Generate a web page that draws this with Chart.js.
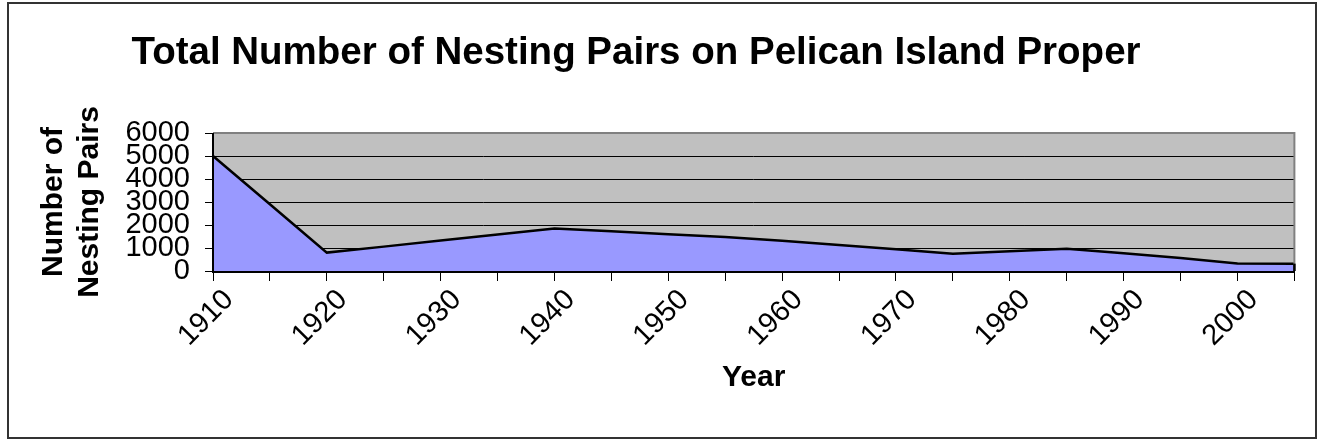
<!DOCTYPE html>
<html><head><meta charset="utf-8">
<script src="https://cdn.jsdelivr.net/npm/chart.js@4.4.1/dist/chart.umd.min.js"></script>
<style>html,body{margin:0;padding:0;background:#fff;} canvas{display:block;}</style>
</head><body>
<canvas id="c" width="1321" height="444"></canvas>
<script>
const years = [1910,1915,1920,1925,1930,1935,1940,1945,1950,1955,1960,1965,1970,1975,1980,1985,1990,1995,2000,2005];
const pairs = [5000,2900,800,1060,1330,1590,1850,1730,1600,1480,1320,1130,950,750,860,970,770,570,330,320];
const yTickMin = 0, yTickMax = 6000, yTickStep = 1000;
const titleText = "Total Number of Nesting Pairs on Pelican Island Proper";
const yTitle = ["Number of", "Nesting Pairs"];
const xTitle = "Year";
const FONT = "'Liberation Sans', Arial, Helvetica, sans-serif";
const PAD_LEFT = -24;

const decor = {
  id: 'decor',
  beforeDraw(chart) {
    const {ctx, chartArea: a} = chart;
    ctx.save();
    ctx.fillStyle = '#ffffff';
    ctx.fillRect(0, 0, chart.width, chart.height);
    ctx.fillStyle = '#C0C0C0';
    ctx.fillRect(a.left, a.top, a.right - a.left, a.bottom - a.top);
    ctx.restore();
  },
  afterDatasetsDraw(chart) {
    const {ctx, chartArea: a} = chart;
    ctx.save();
    ctx.strokeStyle = '#808080';
    ctx.lineWidth = 2;
    ctx.beginPath();
    ctx.moveTo(a.left, a.top); ctx.lineTo(a.right, a.top); ctx.lineTo(a.right, a.bottom);
    ctx.stroke();
    const meta = chart.getDatasetMeta(0);
    const last = meta.data[meta.data.length - 1];
    ctx.strokeStyle = '#000';
    ctx.lineWidth = 2.5;
    ctx.beginPath();
    ctx.moveTo(last.x, last.y); ctx.lineTo(last.x, a.bottom);
    ctx.stroke();
    ctx.lineWidth = 2;
    ctx.beginPath();
    ctx.moveTo(a.left, a.top); ctx.lineTo(a.left, a.bottom + 1); ctx.lineTo(a.right, a.bottom + 1);
    ctx.stroke();
    ctx.restore();
  },
  afterDraw(chart) {
    const ctx = chart.ctx;
    ctx.save();
    ctx.strokeStyle = '#333';
    ctx.lineWidth = 2;
    ctx.strokeRect(8, 3, 1308, 435);
    ctx.restore();
  }
};

new Chart(document.getElementById('c'), {
  type: 'line',
  data: {
    labels: years.map(String),
    datasets: [{
      data: pairs,
      fill: 'origin',
      backgroundColor: '#9999FF',
      borderColor: '#000000',
      borderWidth: 2.5,
      pointRadius: 0,
      tension: 0
    }]
  },
  options: {
    responsive: false,
    animation: false,
    layout: { padding: { left: PAD_LEFT, right: 25, top: 0, bottom: 0 } },
    plugins: {
      legend: { display: false },
      tooltip: { enabled: false },
      title: {
        display: true,
        text: titleText,
        color: '#000',
        font: { family: FONT, size: 38.5, weight: 'bold' },
        padding: { top: 30, bottom: 56.8 }
      }
    },
    scales: {
      x: {
        offset: false,
        afterFit: s => { s.height = 173; },
        grid: { display: true, drawOnChartArea: false, drawTicks: true, tickLength: 10, color: '#000', lineWidth: 1 },
        border: { display: false },
        ticks: {
          autoSkip: false, minRotation: 45, maxRotation: 45, padding: 2, labelOffset: 16,
          color: '#000', font: { family: FONT, size: 29 },
          callback: function(v, i) { return i % 2 === 0 ? this.getLabelForValue(v) : ''; }
        },
        title: {
          display: true, text: xTitle, color: '#000',
          font: { family: FONT, size: 30, weight: 'bold' },
          padding: { top: 0, bottom: 48 }
        }
      },
      y: {
        min: yTickMin, max: yTickMax,
        afterFit: s => { s.width = 213 - PAD_LEFT; },
        grid: { color: '#000', lineWidth: 1, tickLength: 8 },
        border: { display: false },
        ticks: {
          stepSize: yTickStep, autoSkip: false, padding: 15,
          color: '#000', font: { family: FONT, size: 29 },
          callback: v => String(v)
        },
        title: {
          display: true, text: yTitle, color: '#000',
          font: { family: FONT, size: 30, weight: 'bold' },
          padding: { top: 36 - PAD_LEFT, bottom: 0 }
        }
      }
    }
  },
  plugins: [decor]
});
</script>
</body></html>
